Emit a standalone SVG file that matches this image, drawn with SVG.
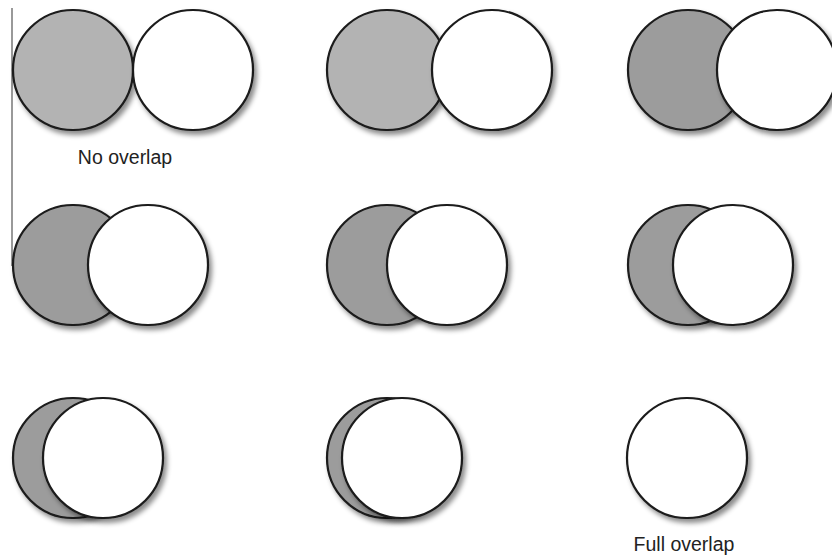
<svg xmlns="http://www.w3.org/2000/svg" width="832" height="558" viewBox="0 0 832 558">
<defs>
<filter id="sh" x="-20%" y="-20%" width="150%" height="150%">
<feDropShadow dx="3" dy="4" stdDeviation="2.5" flood-color="#000" flood-opacity="0.45"/>
</filter>
<style>
.c{stroke:#1a1a1a;stroke-width:2.2;filter:url(#sh)}
.g1{fill:#b3b3b3}
.g2{fill:#9c9c9c}
.w{fill:#fff}
.t{font-family:"Liberation Sans",Arial,sans-serif;font-size:19.5px;fill:#222;text-anchor:middle}
</style>
</defs>
<rect width="832" height="558" fill="#fff"/>
<line x1="12" y1="8" x2="12" y2="266" stroke="#555" stroke-width="1.2"/>
<g id="p1"><circle class="c g1" cx="73" cy="70" r="60"/><circle class="c w" cx="193" cy="70" r="60"/></g>
<g id="p2"><circle class="c g1" cx="387" cy="70" r="60"/><circle class="c w" cx="492" cy="70" r="60"/></g>
<g id="p3"><circle class="c g2" cx="688" cy="70" r="60"/><circle class="c w" cx="777" cy="70" r="60"/></g>
<g id="p4"><circle class="c g2" cx="73" cy="265" r="60"/><circle class="c w" cx="148" cy="265" r="60"/></g>
<g id="p5"><circle class="c g2" cx="387" cy="265" r="60"/><circle class="c w" cx="447" cy="265" r="60"/></g>
<g id="p6"><circle class="c g2" cx="688" cy="265" r="60"/><circle class="c w" cx="733" cy="265" r="60"/></g>
<g id="p7"><circle class="c g2" cx="73" cy="458" r="60"/><circle class="c w" cx="103" cy="458" r="60"/></g>
<g id="p8"><circle class="c g2" cx="387" cy="458" r="60"/><circle class="c w" cx="402" cy="458" r="60"/></g>
<g id="p9"><circle class="c w" cx="687" cy="458" r="60"/></g>
<text class="t" x="125" y="164">No overlap</text>
<text class="t" x="684" y="551">Full overlap</text>
</svg>
